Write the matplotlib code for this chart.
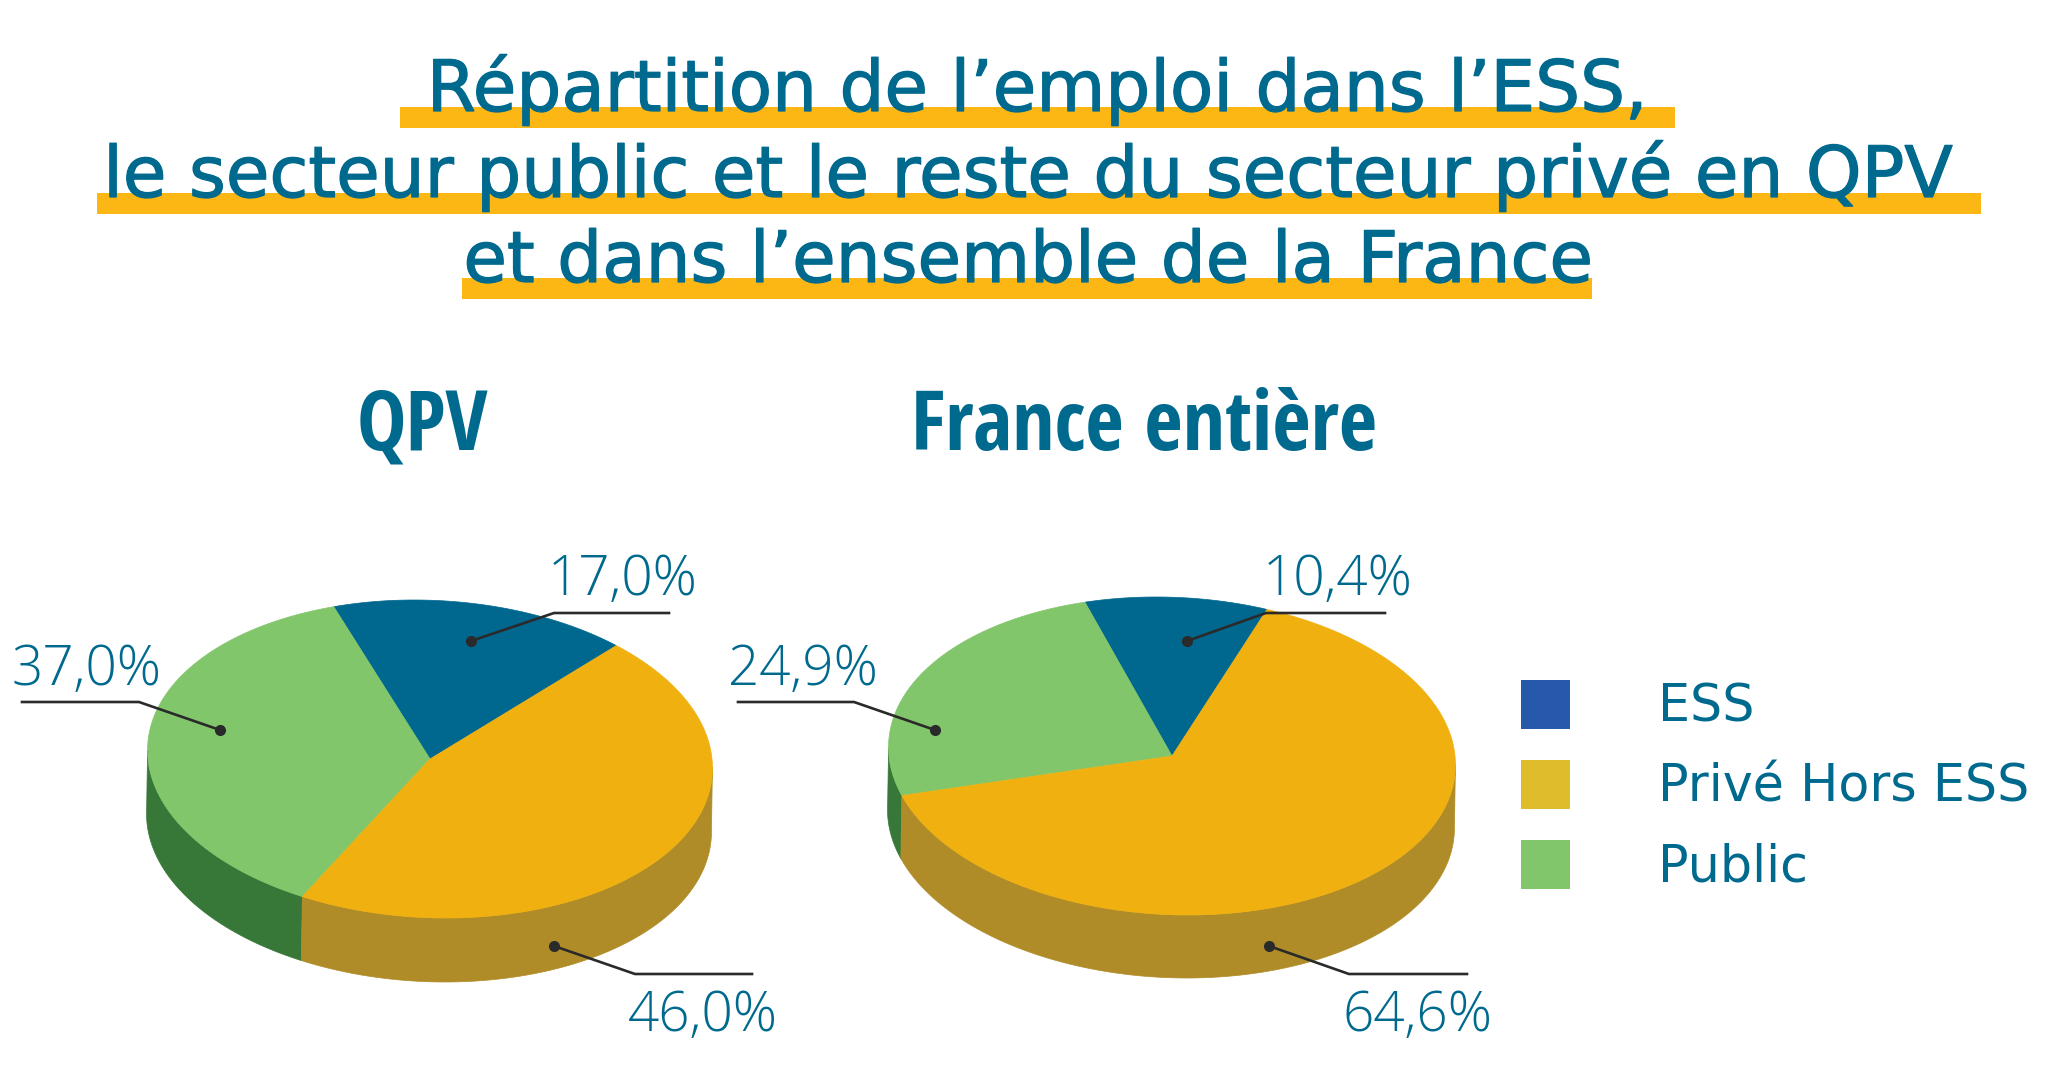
#!/usr/bin/env python3
import numpy as np
import matplotlib
matplotlib.use("Agg")
import matplotlib.pyplot as plt
import matplotlib.patheffects as pe
from matplotlib.patches import Patch, Rectangle

# data
title_lines = ["Répartition de l’emploi dans l’ESS,",
               "le secteur public et le reste du secteur privé en QPV",
               "et dans l’ensemble de la France"]
pie_names = ["QPV", "France entière"]
categories = ["ESS", "Public", "Privé Hors ESS"]
qpv_values = [17.0, 37.0, 46.0]
france_values = [10.4, 24.9, 64.6]
qpv_labels = ["17,0%", "37,0%", "46,0%"]
france_labels = ["10,4%", "24,9%", "64,6%"]
legend_labels = ["ESS", "Privé Hors ESS", "Public"]

TXT = "#006a8e"
top_colors = ["#00688f", "#82c66b", "#f0b110"]
side_colors = ["#00688f", "#377838", "#b08c28"]
legend_colors = ["#2759ab", "#dfbc2b", "#82c66b"]
UNDER = "#fdb714"
LINE = "#2a2a2a"

W, H = 2048, 1069
fig = plt.figure(figsize=(W / 100, H / 100), dpi=100)
ax = fig.add_axes([0, 0, 1, 1])
ax.set_xlim(0, W)
ax.set_ylim(H, 0)
ax.axis("off")

SHEAR = 0.10   # the printed ellipses lean a little


def arc(cx, cy, rx, ry, a0, a1):
    t = np.radians(np.linspace(a0, a1, 200))
    return cx + rx * np.cos(t) - SHEAR * ry * np.sin(t), cy - ry * np.sin(t)


def draw_pie(cx, cy, rx, ry, depth, values, start):
    total = sum(values)
    edges = start + np.cumsum([0] + list(values)) * 360.0 / total
    # side first, only the front half of the cylinder shows
    for i in range(len(values)):
        for lo, hi in [(177, 357), (537, 717)]:
            a0, a1 = max(edges[i], lo), min(edges[i + 1], hi)
            if a1 <= a0:
                continue
            x, y = arc(cx, cy, rx, ry, a0, a1)
            px = np.r_[x, x[::-1] - 1]
            py = np.r_[y, y[::-1] + depth]
            ax.fill(px, py, color=side_colors[i], lw=0.5, zorder=2)
    for i in range(len(values)):
        x, y = arc(cx, cy, rx, ry, edges[i], edges[i + 1])
        ax.fill(np.r_[cx, x], np.r_[cy, y], color=top_colors[i], lw=0.5, zorder=3)


def leader(dot, elbow, end):
    ax.plot([dot[0], elbow[0], end[0]], [dot[1], elbow[1], end[1]],
            color=LINE, lw=1.9, zorder=5, solid_joinstyle="miter")
    ax.plot(dot[0], dot[1], "o", color=LINE, ms=8, mew=0, zorder=6)


# title with the yellow bars behind
under_boxes = [(400, 107, 1275, 21), (97, 193, 1884, 21), (462, 278, 1130, 21)]
title_x = [1037, 1028, 1028]
baselines = [111, 197, 282]
for (x, y, w, h), line, tx, base in zip(under_boxes, title_lines, title_x, baselines):
    ax.add_patch(Rectangle((x, y), w, h, color=UNDER, lw=0, zorder=1))
    ax.text(tx, base, line, ha="center", va="baseline", color=TXT,
            family="DejaVu Sans", fontsize=51, zorder=2,
            path_effects=[pe.withStroke(linewidth=0.9, foreground=TXT)])

# pie names
name_kw = dict(ha="center", va="baseline", color=TXT, family="Open Sans Condensed",
               fontsize=60, fontweight="bold")
ax.text(422, 450, pie_names[0], **name_kw)
ax.text(1144, 450, pie_names[1], **name_kw)

draw_pie(430, 759, 282, 159, 64, qpv_values, 45.5)
draw_pie(1172, 756, 283, 159, 63, france_values, 67.2)

# value labels and leaders
label_kw = dict(ha="center", va="baseline", color=TXT, family="Open Sans",
                fontsize=39.5, fontweight="light", zorder=7)
ax.text(623, 595, qpv_labels[0], **label_kw)
ax.text(87, 685, qpv_labels[1], **label_kw)
ax.text(703, 1031, qpv_labels[2], **label_kw)
ax.text(1338, 595, france_labels[0], **label_kw)
ax.text(803, 685, france_labels[1], **label_kw)
ax.text(1418, 1031, france_labels[2], **label_kw)

leader((471, 641), (554, 613), (669, 613))
leader((220, 730), (139, 702), (22, 702))
leader((554, 946), (635, 974), (752, 974))
leader((1187, 641), (1266, 613), (1385, 613))
leader((935, 730), (854, 702), (738, 702))
leader((1269, 946), (1349, 974), (1467, 974))

# legend
handles = [Patch(facecolor=c, edgecolor="none") for c in legend_colors]
leg = ax.legend(handles, legend_labels, loc="upper left", bbox_to_anchor=(1521, 680),
                bbox_transform=ax.transData, frameon=False, borderpad=0, borderaxespad=0,
                handlelength=0.967, handleheight=1.11, handletextpad=1.74, labelspacing=0.54,
                prop=dict(family="DejaVu Sans", size=36.5), labelcolor=TXT)

fig.savefig("out.png", dpi=100, facecolor="white")
